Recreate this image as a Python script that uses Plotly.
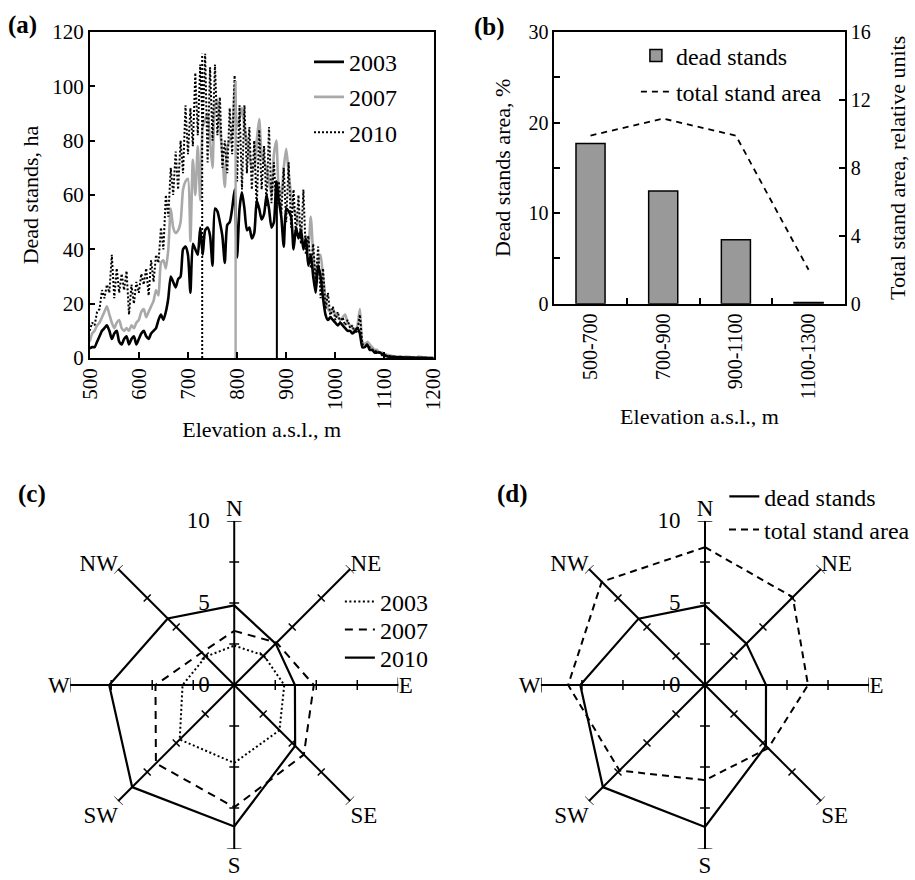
import math
import plotly.graph_objects as go

W, H = 915, 880
SERIF = "Liberation Serif"

# ---------------- data: panel (a) ----------------
ELEV = list(range(500, 1205, 5))
DEAD_2003 = [
    3.5, 4, 4, 6, 8, 10, 11, 12, 10, 7,
    9, 10, 6, 5, 7, 8, 5, 7, 8, 5,
    7, 9, 10, 8, 7, 9, 10, 11, 14, 16,
    14, 17, 22, 30, 28, 26, 29, 30, 40, 41,
    38, 24, 42, 40, 38, 48, 38, 47, 48, 45,
    34, 55, 54, 50, 45, 35, 49, 50, 55, 62,
    37, 55, 61, 55, 47, 48, 44, 46, 58, 55,
    51, 53, 60, 55, 48, 50, 65, 58, 52, 41,
    55, 54, 52, 40, 48, 44, 47, 40, 44, 34,
    38, 30, 24, 34, 30, 22, 16, 14, 15, 14,
    13, 12, 13, 12, 11, 10, 10, 9, 10, 11,
    9, 4, 4, 5, 3, 3, 2, 2, 2, 1.5,
    1, 0.6, 0.5, 0.4, 0.4, 0.3, 0.3, 0.3, 0.2, 0.2,
    0.2, 0.2, 0.1, 0.1, 0.1, 0.1, 0.1, 0, 0, 0,
    0,
]
DEAD_2007 = [
    6, 9, 10, 12, 13, 15, 17, 19, 16, 13,
    11, 13, 14, 11, 10, 11, 10, 12, 11, 13,
    14, 17, 18, 15, 17, 19, 21, 25, 23, 35,
    36, 33, 40, 55, 48, 46, 47, 50, 62, 65,
    66, 43, 73, 60, 78, 58, 85, 88, 90, 80,
    70, 93, 95, 85, 75, 63, 78, 80, 82, 100,
    85, 88, 92, 85, 80, 75, 70, 70, 80, 88,
    75, 72, 70, 65, 60, 75, 80, 62, 60, 70,
    77, 68, 60, 55, 52, 50, 48, 42, 45, 40,
    52, 38, 28, 35, 38, 30, 22, 18, 17, 18,
    16, 15, 14, 15, 16, 13, 12, 11, 10, 12,
    18, 6, 5, 6, 5, 4, 3, 3, 2, 2,
    1.5, 1.2, 1, 0.8, 0.6, 0.5, 0.5, 0.4, 0.4, 0.5,
    0.4, 0.3, 0.3, 0.3, 0.5, 0.4, 0.2, 0.2, 0.1, 0.1,
    0,
]
DEAD_2010 = [
    10, 13, 12, 17, 18, 25, 22, 27, 24, 38,
    22, 33, 24, 31, 25, 32, 16, 27, 20, 28,
    24, 31, 27, 33, 23, 36, 28, 38, 35, 48,
    40, 60, 52, 70, 60, 76, 62, 80, 68, 93,
    75, 92, 78, 105, 82, 108, 85, 112, 72, 107,
    80, 108, 82, 96, 70, 80, 68, 92, 75, 104,
    65, 93, 62, 93, 68, 85, 62, 80, 55, 84,
    62, 78, 56, 85, 57, 72, 55, 65, 53, 70,
    50, 72, 48, 62, 45, 60, 42, 62, 38, 45,
    33, 42, 28, 41, 22, 33, 18, 24, 15, 19,
    14, 17, 13, 15, 12, 14, 11, 12, 9, 10,
    16, 5, 5, 4, 4, 3, 3, 2, 2, 1,
    1, 0.8, 0.5, 0.5, 0.4, 0.3, 0.3, 0.3, 0.2, 0.2,
    0.2, 0.2, 0.1, 0.1, 0.1, 0.1, 0.1, 0, 0, 0,
    0,
]
YEARS = ["2003", "2007", "2010"]
MEAN_ELEV = [881, 797, 729]      # marked mean elevation per year
MEAN_TOP = [65, 102, 112]        # height of marker lines

# ---------------- data: panel (b) ----------------
ELEV_BANDS = ["500-700", "700-900", "900-1100", "1100-1300"]
DEAD_PCT = [17.7, 12.45, 7.05, 0.12]
TOTAL_REL = [9.9, 10.9, 9.9, 2.0]

# ---------------- data: panels (c), (d) ----------------
DIRS = ["N", "NE", "E", "SE", "S", "SW", "W", "NW"]
ANGLES = [0, 45, 90, 135, 180, 225, 270, 315]
ASPECT_2003 = [2.4, 2.55, 3.05, 3.9, 4.75, 4.7, 3.15, 2.45]
ASPECT_2007 = [3.3, 3.65, 4.85, 6.0, 7.45, 6.75, 4.8, 2.8]
ASPECT_2010 = [4.85, 3.57, 3.7, 5.25, 8.62, 8.8, 7.62, 5.73]
ASPECT_DEAD = [4.85, 3.57, 3.72, 5.25, 8.65, 8.8, 7.6, 5.72]
ASPECT_TOTAL = [8.4, 7.57, 6.28, 5.45, 5.8, 7.37, 8.34, 8.9]
SPOKE_TICKS = [2.5, 5, 7.5, 10]

fig = go.Figure()

# ---------- panel (a) ----------
fig.add_trace(go.Scatter(x=ELEV, y=DEAD_2007, mode="lines", name="2007", legend="legend2",
                         line=dict(color="#a9a9a9", width=2.6, shape="spline", smoothing=0.6),
                         xaxis="x", yaxis="y"))
fig.add_trace(go.Scatter(x=ELEV, y=DEAD_2010, mode="lines", name="2010", legend="legend3",
                         line=dict(color="black", width=2, dash="2px,2px"),
                         xaxis="x", yaxis="y"))
fig.add_trace(go.Scatter(x=ELEV, y=DEAD_2003, mode="lines", name="2003", legend="legend",
                         line=dict(color="black", width=2.6, shape="spline", smoothing=0.6),
                         xaxis="x", yaxis="y"))
mean_styles = [dict(color="black", width=2),
               dict(color="#a9a9a9", width=2.4),
               dict(color="black", width=2, dash="2px,2px")]
for e, t, st in zip(MEAN_ELEV, MEAN_TOP, mean_styles):
    fig.add_trace(go.Scatter(x=[e, e], y=[0, t], mode="lines", line=st, showlegend=False,
                             hoverinfo="skip", xaxis="x", yaxis="y"))

# ---------- panel (b) ----------
fig.add_trace(go.Bar(x=ELEV_BANDS, y=DEAD_PCT, width=0.4, name="dead stands", legend="legend4",
                     marker=dict(color="#999999", line=dict(color="black", width=1.5)),
                     xaxis="x2", yaxis="y2"))
fig.add_trace(go.Scatter(x=ELEV_BANDS, y=TOTAL_REL, mode="lines", name="total stand area",
                         legend="legend5", line=dict(color="black", width=1.8, dash="6px,5px"),
                         xaxis="x2", yaxis="y3"))


# ---------- panels (c), (d) ----------
def spoke_ticks():
    rr, tt = [], []
    for a in ANGLES:
        for r in SPOKE_TICKS:
            if r < 10:
                h = 0.3
            else:
                h = 0.45 if a % 90 == 0 else 0.37
            dr = math.hypot(r, h)
            dth = math.degrees(math.atan2(h, r))
            rr += [dr, dr, None]
            tt += [a - dth, a + dth, None]
    return rr, tt


def closed(v):
    return list(v) + [v[0]]


for sub in ["polar", "polar2"]:
    rr, tt = spoke_ticks()
    fig.add_trace(go.Scatterpolar(r=rr, theta=tt, mode="lines", subplot=sub, showlegend=False,
                                  cliponaxis=False, hoverinfo="skip",
                                  line=dict(color="black", width=1.5)))

fig.add_trace(go.Scatterpolar(r=closed(ASPECT_2003), theta=closed(ANGLES), mode="lines",
                              subplot="polar", name="2003", legend="legend6",
                              line=dict(color="black", width=2, dash="2px,2.5px")))
fig.add_trace(go.Scatterpolar(r=closed(ASPECT_2007), theta=closed(ANGLES), mode="lines",
                              subplot="polar", name="2007", legend="legend7",
                              line=dict(color="black", width=2, dash="8px,6px")))
fig.add_trace(go.Scatterpolar(r=closed(ASPECT_2010), theta=closed(ANGLES), mode="lines",
                              subplot="polar", name="2010", legend="legend8",
                              line=dict(color="black", width=2.2)))
fig.add_trace(go.Scatterpolar(r=closed(ASPECT_DEAD), theta=closed(ANGLES), mode="lines",
                              subplot="polar2", name="dead stands", legend="legend9",
                              line=dict(color="black", width=2.2)))
fig.add_trace(go.Scatterpolar(r=closed(ASPECT_TOTAL), theta=closed(ANGLES), mode="lines",
                              subplot="polar2", name="total stand area", legend="legend10",
                              line=dict(color="black", width=2, dash="7px,5px")))

# ---------- layout ----------
R = 164.6


def polar_cfg(cx, cy):
    return dict(
        domain=dict(x=[(cx - R) / W, (cx + R) / W], y=[1 - (cy + R) / H, 1 - (cy - R) / H]),
        bgcolor="rgba(0,0,0,0)",
        angularaxis=dict(rotation=90, direction="clockwise", tickmode="array",
                         tickvals=ANGLES, ticktext=DIRS, showline=False, showgrid=True,
                         gridcolor="black", gridwidth=1.6, ticks="",
                         tickfont=dict(size=23, family=SERIF, color="black")),
        radialaxis=dict(range=[0, 10], tickmode="array", tickvals=[0, 5, 10],
                        showline=False, showgrid=False, ticks="outside", ticklen=16,
                        tickcolor="rgba(0,0,0,0)", angle=90, tickangle=90,
                        side="counterclockwise",
                        tickfont=dict(size=23, family=SERIF, color="black")),
    )


axis_common = dict(showline=True, linecolor="black", linewidth=1.5, ticks="inside",
                   ticklen=6, tickwidth=1.5, tickcolor="black", showgrid=False,
                   zeroline=False, automargin=False)

layout = dict(
    width=W, height=H, template="none",
    margin=dict(l=0, r=0, t=0, b=0),
    paper_bgcolor="white", plot_bgcolor="white",
    font=dict(family=SERIF, color="black", size=21),
    xaxis=dict(domain=[90 / W, 435 / W], anchor="y", range=[500, 1200],
               tickmode="array", tickvals=list(range(500, 1201, 100)), tickangle=-90,
               mirror=True, tickfont=dict(size=21),
               title=dict(text="Elevation a.s.l., m", font=dict(size=22), standoff=12),
               **axis_common),
    yaxis=dict(domain=[1 - 358 / H, 1 - 32 / H], anchor="x", range=[0, 120],
               tickmode="array", tickvals=list(range(0, 121, 20)), mirror=True,
               tickfont=dict(size=21),
               title=dict(text="Dead stands, ha", font=dict(size=22), standoff=8),
               **axis_common),
    xaxis2=dict(domain=[556 / W, 847.7 / W], anchor="y2", type="category",
                categoryorder="array", categoryarray=ELEV_BANDS, range=[-0.5, 3.5],
                tickson="boundaries", tickangle=-90, mirror=True, tickfont=dict(size=20),
                title=dict(text="Elevation a.s.l., m", font=dict(size=22), standoff=10),
                **axis_common),
    yaxis2=dict(domain=[1 - 303.7 / H, 1 - 32 / H], anchor="x2", range=[0, 30],
                tickmode="array", tickvals=[0, 5, 10, 15, 20, 25, 30],
                ticktext=["0", "", "10", "", "20", "", "30"], tickfont=dict(size=20),
                title=dict(text="Dead stands area, %", font=dict(size=22), standoff=12),
                **axis_common),
    yaxis3=dict(overlaying="y2", anchor="x2", side="right", range=[0, 16],
                tickmode="array", tickvals=[0, 4, 8, 12, 16], tickfont=dict(size=20),
                title=dict(text="Total stand area, relative units", font=dict(size=22),
                           standoff=20),
                **axis_common),
    polar=polar_cfg(235, 685),
    polar2=polar_cfg(707.3, 685),
)


def leg(text_x, cy):
    return dict(x=(text_x - 40) / W, y=1 - cy / H, xanchor="left", yanchor="middle",
                bgcolor="rgba(0,0,0,0)", borderwidth=0,
                font=dict(size=24, family=SERIF, color="black"))


layout["legend"] = leg(350, 62.3)
layout["legend2"] = leg(350, 97.3)
layout["legend3"] = leg(350, 132.7)
layout["legend4"] = leg(678, 56)
layout["legend5"] = leg(678, 92)
layout["legend6"] = leg(381, 602)
layout["legend7"] = leg(381, 630)
layout["legend8"] = leg(381, 658)
layout["legend9"] = leg(766.7, 496.7)
layout["legend10"] = leg(766.7, 530)

panel_labels = [("(a)", 23, 25), ("(b)", 491, 27), ("(c)", 32, 494), ("(d)", 514, 494)]
layout["annotations"] = [
    dict(text="<b>%s</b>" % t, x=px / W, y=1 - py / H, xref="paper", yref="paper",
         showarrow=False, xanchor="center", yanchor="middle",
         font=dict(size=25, family=SERIF, color="black"))
    for t, px, py in panel_labels
]

fig.update_layout(**layout)
fig.write_html("out.html")
